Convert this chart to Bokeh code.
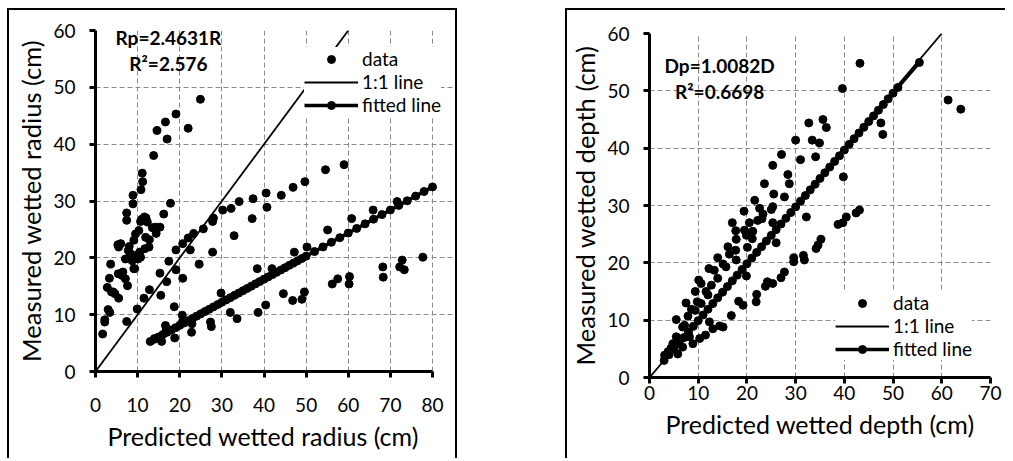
from bokeh.plotting import figure
from bokeh.layouts import row, column
from bokeh.models import Legend, LegendItem, Label, FixedTicker, Range1d, Spacer, Title
from bokeh.embed import file_html
from bokeh.resources import INLINE

FONT = "Lato"

# ---------------- data: wetted radius panel ----------------
radius_points = [
    (1.7, 6.6), (2.2, 8.7), (2.2, 9.1), (3.0, 10.9), (3.4, 10.4), (2.8, 14.8), (3.6, 18.9),
    (3.3, 16.4), (3.8, 14.0), (4.6, 13.7), (5.5, 12.9), (5.3, 22.3), (5.5, 21.9), (5.4, 17.2),
    (6.3, 16.9), (7.1, 16.3), (7.4, 8.8), (7.4, 26.6), (7.4, 27.9), (7.6, 15.1), (7.1, 19.8),
    (7.8, 21.3), (8.3, 20.7), (8.7, 19.5), (8.9, 29.5), (8.9, 31.0), (9.1, 18.1), (9.1, 23.1),
    (9.5, 24.2), (9.9, 11.0), (10.1, 19.8), (10.3, 24.8), (10.7, 26.4), (10.7, 20.1), (10.8, 32.0),
    (11.2, 33.4), (11.1, 34.9), (11.5, 12.9), (11.6, 27.2), (11.7, 21.6), (11.9, 23.6), (12.3, 26.3),
    (12.7, 21.9), (12.8, 23.2), (12.8, 14.4), (13.8, 38.0), (14.2, 25.4), (14.4, 24.3), (14.6, 42.4),
    (15.3, 25.4), (15.3, 17.3), (15.5, 13.4), (16.2, 27.7), (16.6, 43.9), (17.0, 40.9), (17.4, 19.4),
    (17.8, 29.6), (16.9, 15.8), (18.7, 11.4), (19.1, 17.9), (19.1, 21.4), (19.1, 45.3), (20.7, 16.4),
    (20.7, 22.5), (22.0, 42.8), (22.0, 23.5), (22.5, 21.4), (23.3, 24.3), (24.6, 18.9), (24.9, 47.9),
    (25.6, 25.1), (27.8, 21.0), (27.8, 26.4), (28.0, 27.0), (29.8, 13.8), (30.2, 28.4), (32.2, 28.7),
    (32.9, 23.9), (34.1, 29.9), (32.0, 10.4), (33.6, 9.3), (37.2, 26.9), (37.4, 30.4), (38.4, 18.1),
    (38.6, 10.4), (40.4, 11.7), (40.5, 31.4), (40.7, 28.9), (41.9, 18.1), (44.1, 31.0), (44.6, 13.7),
    (46.9, 32.4), (46.8, 12.5), (47.2, 21.0), (49.0, 12.7), (49.6, 14.0), (49.7, 33.4), (50.2, 21.9),
    (54.6, 35.5), (55.1, 24.9), (56.2, 15.4), (57.5, 16.3), (59.0, 36.4), (60.2, 15.4), (60.3, 16.7),
    (60.8, 26.9), (65.9, 28.4), (68.2, 18.4), (68.3, 16.6), (71.6, 29.9), (72.2, 18.4), (72.8, 19.6),
    (73.3, 17.9), (77.7, 20.1), (15.7, 5.3), (16.6, 8.1), (18.8, 5.9), (22.8, 6.9), (22.9, 8.4),
    (27.3, 8.7), (27.5, 7.9), (20.6, 9.9), (20.6, 8.7), (6.0, 22.5), (8.0, 22.0), (9.8, 20.5),
    (11.0, 26.8), (12.0, 27.0), (10.5, 21.0), (9.3, 18.1), (6.5, 17.5), (4.2, 14.0), (13.5, 25.3),
    (16.8, 7.3), (14.0, 5.8),
]
radius_fit_x = [13, 14, 15, 16, 17, 18, 19, 20, 21, 22, 23, 24, 25, 26, 27, 28, 29, 30, 31, 32,
                33, 34, 35, 36, 37, 38, 39, 40, 41, 42, 43, 44, 45, 46, 47, 48, 49, 50, 52, 54,
                56, 58, 60, 62, 64, 66, 68, 70, 72, 74, 76, 78, 80]
radius_fit_y = [5.28, 5.68, 6.09, 6.50, 6.90, 7.31, 7.71, 8.12, 8.53, 8.93, 9.34, 9.74, 10.15,
                10.56, 10.96, 11.37, 11.77, 12.18, 12.59, 12.99, 13.40, 13.80, 14.21, 14.62,
                15.02, 15.43, 15.83, 16.24, 16.65, 17.05, 17.46, 17.86, 18.27, 18.68, 19.08,
                19.49, 19.89, 20.30, 21.11, 21.92, 22.74, 23.55, 24.36, 25.17, 25.98, 26.80,
                27.61, 28.42, 29.23, 30.04, 30.86, 31.67, 32.48]
radius_one_x = [0, 60]
radius_one_y = [0, 60]
radius_x_ticks = [0, 10, 20, 30, 40, 50, 60, 70, 80]
radius_y_ticks = [0, 10, 20, 30, 40, 50, 60]

# ---------------- data: wetted depth panel ----------------
depth_points = [
    (43.2, 54.8), (39.6, 50.4), (61.3, 48.4), (63.9, 46.8), (32.7, 44.4), (35.6, 45.0), (36.3, 43.6),
    (47.5, 44.4), (47.9, 42.4), (33.4, 41.4), (30.0, 41.4), (34.9, 40.9), (31.0, 38.0), (34.1, 38.5),
    (27.1, 38.9), (25.3, 37.0), (39.8, 35.0), (28.4, 35.4), (28.7, 33.8), (23.6, 33.8), (25.5, 32.0),
    (27.7, 31.5), (21.6, 30.9), (19.4, 29.0), (22.6, 29.5), (25.3, 29.8), (25.0, 29.3), (23.3, 28.5),
    (23.1, 27.7), (22.2, 27.4), (17.0, 27.0), (20.5, 27.0), (25.3, 27.0), (17.7, 25.6), (19.5, 25.7),
    (21.2, 25.5), (19.9, 24.8), (21.1, 24.2), (17.8, 24.1), (26.0, 23.5), (20.1, 22.7), (16.1, 22.8),
    (17.7, 22.2), (16.4, 21.5), (14.0, 20.9), (15.1, 19.8), (15.7, 19.3), (17.8, 20.5), (12.2, 19.0),
    (13.3, 18.7), (14.0, 17.3), (12.7, 16.1), (10.1, 17.0), (10.6, 16.4), (11.6, 15.0), (9.4, 15.0),
    (12.0, 14.4), (9.8, 13.2), (7.5, 13.0), (10.6, 12.9), (8.6, 11.9), (9.4, 11.7), (5.5, 10.1),
    (6.8, 8.8), (19.9, 17.7),
    (43.1, 29.2), (42.4, 28.7), (40.4, 28.0), (38.7, 26.7), (39.7, 27.0), (35.2, 24.1), (34.2, 22.5),
    (34.6, 23.1), (31.6, 21.3), (29.6, 20.9), (29.6, 20.2), (31.8, 20.5), (32.2, 28.0), (27.7, 18.4),
    (27.0, 17.4), (25.3, 16.4), (24.2, 16.7), (23.8, 15.9), (22.0, 14.5), (21.9, 13.2), (18.3, 13.3),
    (19.2, 12.6), (16.8, 10.8), (14.4, 9.0), (15.1, 8.8), (13.0, 8.5), (12.3, 9.7), (11.5, 7.4),
    (8.2, 7.1), (10.3, 6.8), (8.9, 5.9),
    (3.1, 3.9), (3.8, 4.5), (4.4, 5.1), (4.8, 5.9), (5.8, 4.1), (6.2, 6.5), (6.8, 5.3), (7.5, 7.1),
    (7.2, 9.1), (7.9, 10.7), (5.5, 7.1),
]
depth_fit_x = [3, 4, 5, 6, 7, 8, 9, 10, 11, 12, 13, 14, 15, 16, 17, 18, 19, 20, 21, 22, 23, 24,
               25, 26, 27, 28, 29, 30, 31, 32, 33, 34, 35, 36, 37, 38, 39, 40, 41, 42, 43, 44,
               45, 46, 47, 48, 49, 50, 51, 55.4]
depth_fit_y = [2.98, 3.97, 4.96, 5.95, 6.94, 7.94, 8.93, 9.92, 10.91, 11.90, 12.89, 13.89, 14.88,
               15.87, 16.86, 17.85, 18.84, 19.84, 20.83, 21.82, 22.81, 23.80, 24.80, 25.79, 26.78,
               27.77, 28.76, 29.76, 30.75, 31.74, 32.73, 33.72, 34.72, 35.71, 36.70, 37.69, 38.68,
               39.68, 40.67, 41.66, 42.65, 43.64, 44.64, 45.63, 46.62, 47.61, 48.60, 49.59, 50.59,
               54.95]
depth_one_x = [0, 60]
depth_one_y = [0, 60]
depth_x_ticks = [0, 10, 20, 30, 40, 50, 60, 70]
depth_y_ticks = [0, 10, 20, 30, 40, 50, 60]

H = 450


def make_panel(points, fit_x, fit_y, one_x, one_y, xticks, yticks, x_end, xlabel, ylabel,
               eq1, eq2, eq_x, eq_y1, eq_y2, width, borders, legend_loc, x_tick_standoff,
               x_label_standoff, styles, label_as_title):
    p = figure(width=width, height=H, output_backend="svg", toolbar_location=None,
               x_range=Range1d(xticks[0], x_end), y_range=Range1d(yticks[0], yticks[-1]),
               min_border_left=borders[0], min_border_right=borders[1],
               min_border_top=borders[2], min_border_bottom=borders[3],
               styles=styles)
    p.outline_line_color = None
    p.background_fill_color = "white"
    p.border_fill_color = "white"

    for g in (p.xgrid[0], p.ygrid[0]):
        g.grid_line_color = "#8a8a8a"
        g.grid_line_dash = "5 3"
        g.grid_line_width = 1

    p.xaxis.ticker = FixedTicker(ticks=xticks)
    p.yaxis.ticker = FixedTicker(ticks=yticks)
    p.xgrid.ticker = FixedTicker(ticks=xticks)
    p.ygrid.ticker = FixedTicker(ticks=yticks)
    p.xaxis.bounds = (xticks[0], xticks[-1])
    p.yaxis.bounds = (yticks[0], yticks[-1])
    for ax in (p.xaxis[0], p.yaxis[0]):
        ax.axis_line_width = 3
        ax.axis_line_color = "black"
        ax.major_tick_line_width = 3
        ax.major_tick_line_color = "black"
        ax.major_tick_out = 6
        ax.major_tick_in = 0
        ax.minor_tick_line_color = None
        ax.major_label_text_font = FONT
        ax.major_label_text_font_size = "19px"
        ax.major_label_text_color = "black"
        ax.axis_label_text_font = FONT
        ax.axis_label_text_font_style = "normal"
        ax.axis_label_text_color = "black"
    p.xaxis.axis_label_text_font_size = "25px"
    p.yaxis.axis_label_text_font_size = "25.5px"
    p.yaxis.axis_label = ylabel
    p.xaxis.major_label_standoff = x_tick_standoff
    p.yaxis.major_label_standoff = 14
    p.yaxis.axis_label_standoff = 4
    if label_as_title is None:
        p.xaxis.axis_label = xlabel
        p.xaxis.axis_label_standoff = x_label_standoff
    else:
        p.add_layout(Title(text=xlabel, align="left", offset=label_as_title,
                           standoff=x_label_standoff, text_font=FONT,
                           text_font_size="25px", text_font_style="normal",
                           text_color="black"), "below")

    xs = [a for a, b in points]
    ys = [b for a, b in points]
    one = p.line(one_x, one_y, line_color="black", line_width=1.8)
    fl = p.line(fit_x, fit_y, line_color="black", line_width=3.5)
    fs = p.scatter(fit_x, fit_y, size=8, color="black")
    sc = p.scatter(xs, ys, size=8, color="black")

    legend = Legend(items=[LegendItem(label="data", renderers=[sc]),
                           LegendItem(label="1:1 line", renderers=[one]),
                           LegendItem(label="fitted line", renderers=[fl, fs])],
                    location=legend_loc)
    legend.background_fill_color = "white"
    legend.background_fill_alpha = 1.0
    legend.border_line_color = None
    legend.padding = 6
    legend.margin = 0
    legend.spacing = 0
    legend.glyph_width = 54
    legend.glyph_height = 20
    legend.label_height = 20
    legend.label_standoff = 4
    legend.label_text_font = FONT
    legend.label_text_font_size = "19px"
    legend.label_text_color = "black"
    p.add_layout(legend)

    for txt, yy in ((eq1, eq_y1), (eq2, eq_y2)):
        p.add_layout(Label(x=eq_x, y=yy, text=txt, text_align="center", text_baseline="middle",
                           text_font=FONT, text_font_style="bold", text_font_size="19px",
                           text_color="black"))
    return p


p1 = make_panel(radius_points, radius_fit_x, radius_fit_y, radius_one_x, radius_one_y,
                radius_x_ticks, radius_y_ticks, 85.93,
                "Predicted wetted radius (cm)", "Measured wetted radius (cm)",
                "Rp=2.4631R", "R\u00b2=2.576", 17.3, 58.8, 54.2,
                450, (86, 2, 20, 89), (209, 255), 20, 8,
                {"border-left": "2px solid black", "border-top": "2px solid black",
                 "border-right": "2px solid black"}, 12)

p2 = make_panel(depth_points, depth_fit_x, depth_fit_y, depth_one_x, depth_one_y,
                depth_x_ticks, depth_y_ticks, 70,
                "Predicted wetted depth (cm)", "Measured wetted depth (cm)",
                "Dp=1.0082D", "R\u00b2=0.6698", 14.4, 54.4, 49.9,
                440, (82, 17, 23, 83), (186, 17), 2, 6,
                {"border-left": "2px solid black", "border-top": "2px solid black"}, None)

layout = row(Spacer(width=7), column(Spacer(height=8), p1), Spacer(width=108),
             column(Spacer(height=8), p2), spacing=0)
open("out.html", "w").write(file_html(layout, INLINE))
